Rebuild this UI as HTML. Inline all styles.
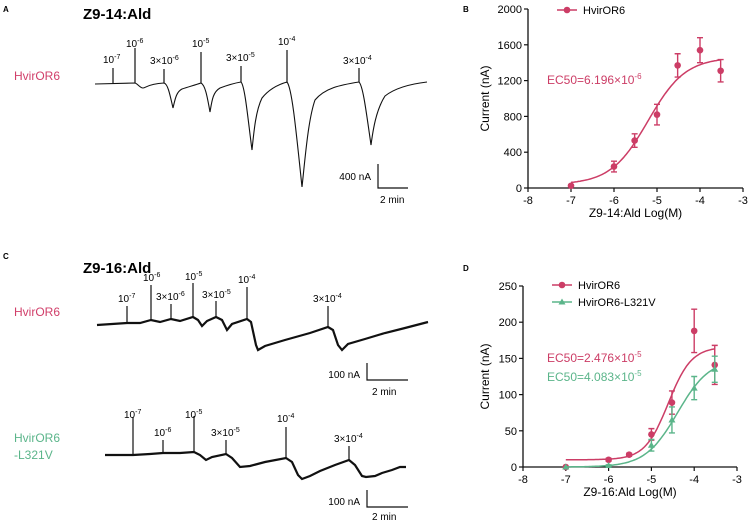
<!DOCTYPE html>
<html><head><meta charset="utf-8"><style>
body{margin:0;background:#fff}
svg{display:block;font-family:"Liberation Sans",Arial,sans-serif}
</style></head><body>
<svg id="fig" width="749" height="522" viewBox="0 0 749 522" xmlns="http://www.w3.org/2000/svg">
<g font-size="10">
<text x="3" y="12" font-size="8" font-weight="bold">A</text>
<text x="83" y="19" font-size="15" font-weight="bold">Z9-14:Ald</text>
<text x="14" y="80" font-size="12" fill="#d13f6a">HvirOR6</text>
<path fill="none" stroke="#111" stroke-width="1.1" d="M95,84 L135,83 C138,84 140,88 143,88 C146,88 147,84 164,83 C168,84 170,95 173,108 C175,100 176,92 182,89 C188,87 195,85 201,83 C205,85 207,95 210,112 C212,100 213,92 220,88 C228,85 235,83 241,82 C245,86 248,120 252,150 C254,130 256,110 262,98 C270,88 280,84 287,82 C292,88 296,130 302,187 C305,160 308,120 315,100 C325,88 340,85 359,82 C363,86 366,110 371,145 C373,130 376,110 385,96 C395,88 410,84 427,82"/>
<g stroke="#111" stroke-width="1.2">
<line x1="113" y1="83" x2="113" y2="68"/><line x1="135" y1="83" x2="135" y2="48"/><line x1="164" y1="83" x2="164" y2="69"/><line x1="201" y1="83" x2="201" y2="52"/><line x1="241" y1="82" x2="241" y2="66"/><line x1="287" y1="82" x2="287" y2="50"/><line x1="359" y1="82" x2="359" y2="68"/>
</g>
<text x="103" y="63">10<tspan dy="-4" font-size="7">-7</tspan></text>
<text x="126" y="47">10<tspan dy="-4" font-size="7">-6</tspan></text>
<text x="150" y="64">3×10<tspan dy="-4" font-size="7">-6</tspan></text>
<text x="192" y="47">10<tspan dy="-4" font-size="7">-5</tspan></text>
<text x="226" y="61">3×10<tspan dy="-4" font-size="7">-5</tspan></text>
<text x="278" y="45">10<tspan dy="-4" font-size="7">-4</tspan></text>
<text x="343" y="64">3×10<tspan dy="-4" font-size="7">-4</tspan></text>
<path d="M378,164 V188 H408" fill="none" stroke="#111" stroke-width="1.2"/>
<text x="371" y="180" text-anchor="end">400 nA</text>
<text x="380" y="203">2 min</text>
</g>
<g font-size="10">
<text x="3" y="259" font-size="8" font-weight="bold">C</text>
<text x="83" y="273" font-size="15" font-weight="bold">Z9-16:Ald</text>
<text x="14" y="316" font-size="12" fill="#d13f6a">HvirOR6</text>
<text x="14" y="442" font-size="12" fill="#5bb58a">HvirOR6</text>
<text x="14" y="459" font-size="12" fill="#5bb58a">-L321V</text>
<path fill="none" stroke="#111" stroke-width="2.2" d="M97,325 L127,323 L140,323 L151,320 L160,322 L171,319 L180,321 L193,317 L198,320 L202,326 L207,321 L216,317 L222,320 L227,330 L232,324 L247,319 L251,322 L256,345 L258,350 L265,346 L285,340 L310,333 L328,327 L333,330 L338,345 L342,350 L348,344 L365,339 L385,333 L405,328 L428,322"/>
<g stroke="#111" stroke-width="1.2">
<line x1="127" y1="323" x2="127" y2="306"/><line x1="151" y1="320" x2="151" y2="285"/><line x1="171" y1="319" x2="171" y2="304"/><line x1="193" y1="317" x2="193" y2="283"/><line x1="216" y1="317" x2="216" y2="301"/><line x1="247" y1="319" x2="247" y2="287"/><line x1="328" y1="327" x2="328" y2="306"/>
</g>
<text x="118" y="302">10<tspan dy="-4" font-size="7">-7</tspan></text>
<text x="143" y="281">10<tspan dy="-4" font-size="7">-6</tspan></text>
<text x="156" y="300">3×10<tspan dy="-4" font-size="7">-6</tspan></text>
<text x="185" y="280">10<tspan dy="-4" font-size="7">-5</tspan></text>
<text x="202" y="298">3×10<tspan dy="-4" font-size="7">-5</tspan></text>
<text x="238" y="283">10<tspan dy="-4" font-size="7">-4</tspan></text>
<text x="313" y="302">3×10<tspan dy="-4" font-size="7">-4</tspan></text>
<path d="M367,363 V380 H408" fill="none" stroke="#111" stroke-width="1.2"/>
<text x="360" y="378" text-anchor="end">100 nA</text>
<text x="372" y="395">2 min</text>
<path fill="none" stroke="#111" stroke-width="2.2" d="M105,455 L133,455 L150,454 L163,453 L180,453 L194,452 L200,455 L206,460 L212,457 L226,454 L232,458 L240,467 L250,466 L265,462 L286,458 L292,462 L298,475 L302,479 L310,476 L320,471 L335,465 L349,460 L355,465 L362,476 L366,477 L375,476 L382,473 L392,470 L400,467 L406,467"/>
<g stroke="#111" stroke-width="1.2">
<line x1="133" y1="455" x2="133" y2="417"/><line x1="163" y1="453" x2="163" y2="440"/><line x1="194" y1="452" x2="194" y2="416"/><line x1="226" y1="454" x2="226" y2="440"/><line x1="286" y1="458" x2="286" y2="427"/><line x1="349" y1="460" x2="349" y2="446"/>
</g>
<text x="124" y="418">10<tspan dy="-4" font-size="7">-7</tspan></text>
<text x="154" y="436">10<tspan dy="-4" font-size="7">-6</tspan></text>
<text x="185" y="418">10<tspan dy="-4" font-size="7">-5</tspan></text>
<text x="211" y="436">3×10<tspan dy="-4" font-size="7">-5</tspan></text>
<text x="277" y="422">10<tspan dy="-4" font-size="7">-4</tspan></text>
<text x="334" y="442">3×10<tspan dy="-4" font-size="7">-4</tspan></text>
<path d="M367,490 V507 H408" fill="none" stroke="#111" stroke-width="1.2"/>
<text x="360" y="505" text-anchor="end">100 nA</text>
<text x="372" y="520">2 min</text>
</g>
<text x="463" y="12" font-size="8" font-weight="bold">B</text>
<text x="463" y="271" font-size="8" font-weight="bold">D</text>
<g id="chartB"></g>
<g id="chartD"></g>
</svg>
<script>
const NS="http://www.w3.org/2000/svg";
const RED="#cc3d66", GREEN="#5bb58a";
// Chart B data
const bX=[-7,-6,-5.52,-5,-4.52,-4,-3.52];
const bY=[25,240,530,820,1370,1540,1310];
const bErr=[10,60,75,115,130,140,125];
const bFit=[40,1460,-5.208,1.0]; // bottom, top, logEC50, hill
const bYTicks=[0,400,800,1200,1600,2000];
const xTicks=[-8,-7,-6,-5,-4,-3];
// Chart D data
const dX=[-7,-6,-5.52,-5,-4.52,-4,-3.52];
const dRedY=[0,10,17,45,89,188,141];
const dRedErr=[0,2,2,8,16,30,27];
const dRedFit=[10,166,-4.606,1.6];
const dGX=[-7,-6,-5,-4.52,-4,-3.52];
const dGreenY=[0,2,30,65,109,135];
const dGreenErr=[0,1,8,18,16,18];
const dGreenFit=[0,150,-4.389,1.15];
const dYTicks=[0,50,100,150,200,250];

function el(p,t,a){const e=document.createElementNS(NS,t);for(const k in a)e.setAttribute(k,a[k]);p.appendChild(e);return e;}
function logistic(f,x){return f[0]+(f[1]-f[0])/(1+Math.pow(10,(f[2]-x)*f[3]));}

function axes(g,X0,X1,Y0,Y1,ymax,yTicks,xlabel,xlabY){
  const sx=v=>X0+(v+8)/5*(X1-X0);
  const sy=v=>Y0-(v/ymax)*(Y0-Y1);
  const a=el(g,'path',{d:`M${X0},${Y1} V${Y0} H${X1}`,fill:'none',stroke:'#111','stroke-width':1.3});
  
  
  yTicks.forEach(t=>{
    el(g,'line',{x1:X0-4,x2:X0,y1:sy(t),y2:sy(t),stroke:'#111','stroke-width':1.2});
    const tx=el(g,'text',{x:X0-6,y:sy(t)+4,'text-anchor':'end','font-size':11});
    tx.textContent=t;
    
    
  });
  xTicks.forEach(t=>{
    el(g,'line',{x1:sx(t),x2:sx(t),y1:Y0,y2:Y0+4,stroke:'#111','stroke-width':1.2});
    const tx=el(g,'text',{x:sx(t),y:Y0+16,'text-anchor':'middle','font-size':11});
    tx.textContent=t;
    
    
  });
  const xl=el(g,'text',{x:(X0+X1)/2,y:xlabY,'text-anchor':'middle','font-size':12});
  xl.textContent=xlabel;
  
  
  const cy=(Y0+Y1)/2;
  const yl=el(g,'text',{x:489,y:cy,'text-anchor':'middle','font-size':12,transform:`rotate(-90 489 ${cy})`});
  yl.textContent='Current (nA)';
  
  
  return [sx,sy];
}
function series(g,sx,sy,xs,ys,errs,fit,color,marker,name){
  let d='';
  for(let i=0;i<=100;i++){const x=-7+i*3.48/100;d+=(i?'L':'M')+sx(x).toFixed(1)+','+sy(logistic(fit,x)).toFixed(1);}
  const c=el(g,'path',{d,fill:'none',stroke:color,'stroke-width':1.5});
  
  
  xs.forEach((x,i)=>{
    const px=sx(x),y1=sy(ys[i]+errs[i]),y2=sy(ys[i]-errs[i]);
    if(errs[i]>0){
      const eb=el(g,'path',{d:`M${px},${y1} V${y2} M${px-3},${y1} H${px+3} M${px-3},${y2} H${px+3}`,stroke:color,'stroke-width':1.4,fill:'none'});
      
      
    }
    let m;
    if(marker==='circle') m=el(g,'circle',{cx:px,cy:sy(ys[i]),r:3.3,fill:color});
    else {const py=sy(ys[i]);m=el(g,'path',{d:`M${px},${py-3.5} L${px+3.5},${py+2.5} L${px-3.5},${py+2.5}Z`,fill:color});}
    
    
  });
}
function legend(g,x,y,color,marker,label){
  el(g,'line',{x1:x,x2:x+20,y1:y,y2:y,stroke:color,'stroke-width':1.5});
  if(marker==='circle') el(g,'circle',{cx:x+10,cy:y,r:3.3,fill:color});
  else el(g,'path',{d:`M${x+10},${y-3.5} L${x+13.5},${y+2.5} L${x+6.5},${y+2.5}Z`,fill:color});
  const t=el(g,'text',{x:x+26,y:y+4,'font-size':11});
  t.textContent=label;
  
  
}
function ec(g,x,y,color,mant,exp){
  const t=el(g,'text',{x,y,'font-size':12,fill:color});
  
  
  t.appendChild(document.createTextNode('EC50='+mant+'×10'));
  const s=el(t,'tspan',{dy:-5,'font-size':8});s.textContent=exp;
}
// B
const gB=document.getElementById('chartB');
const [bsx,bsy]=axes(gB,528,743,188,9,2000,bYTicks,'Z9-14:Ald Log(M)',217);
series(gB,bsx,bsy,bX,bY,bErr,bFit,RED,'circle','hviror6');
legend(gB,557,10,RED,'circle','HvirOR6');
ec(gB,547,84,RED,'6.196','-6');
// D
const gD=document.getElementById('chartD');
const [dsx,dsy]=axes(gD,523,737,467,286,250,dYTicks,'Z9-16:Ald Log(M)',496);
series(gD,dsx,dsy,dX,dRedY,dRedErr,dRedFit,RED,'circle','hviror6');
series(gD,dsx,dsy,dGX,dGreenY,dGreenErr,dGreenFit,GREEN,'triangle','hviror6-l321v');
legend(gD,552,285,RED,'circle','HvirOR6');
legend(gD,552,302,GREEN,'triangle','HvirOR6-L321V');
ec(gD,547,362,RED,'2.476','-5');
ec(gD,547,381,GREEN,'4.083','-5');
</script>
</body></html>
